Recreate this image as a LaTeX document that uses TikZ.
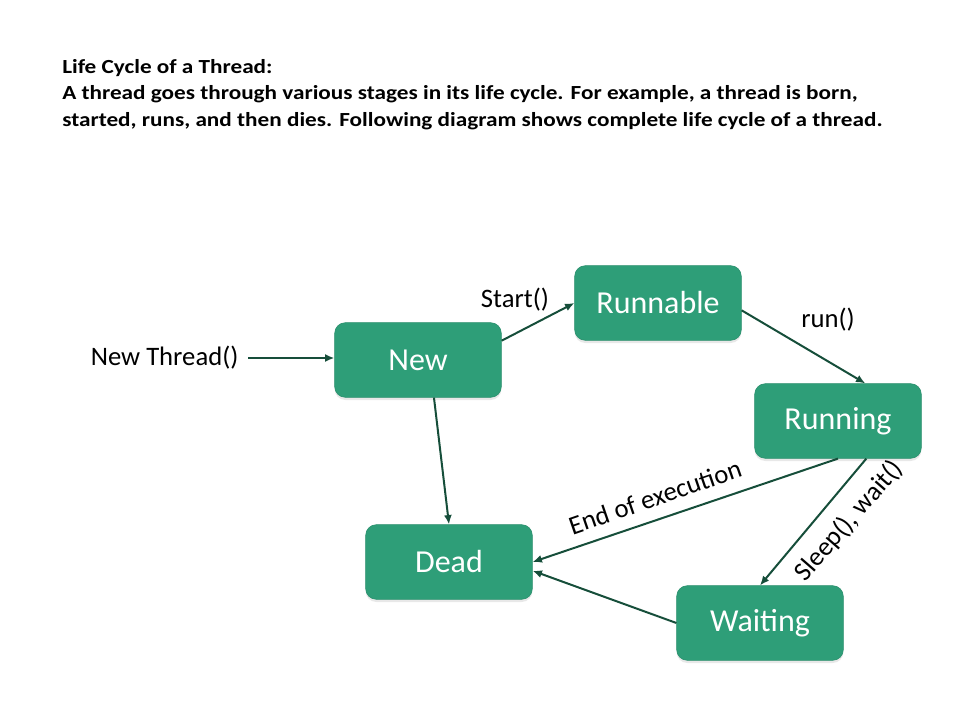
\documentclass[tikz,border=0pt]{standalone}
\usepackage{fontspec}
\setmainfont{Carlito}
\newfontfamily\introfont[FakeStretch=1.16]{Carlito}
\usetikzlibrary{arrows.meta,shadows}
\definecolor{boxgreen}{RGB}{46,158,120}
\definecolor{arrowgreen}{RGB}{22,78,58}
\begin{document}
\begin{tikzpicture}[
    x=0.75pt, y=-0.75pt,
    stbox/.style={
        rectangle, rounded corners=8pt, draw=boxgreen!90!black, fill=boxgreen,
        minimum width=125pt, minimum height=56pt, inner sep=2pt,
        text=white, font=\fontsize{24}{28}\selectfont,
        drop shadow={opacity=0.18, shadow xshift=0pt, shadow yshift=-2pt}
    },
    trans/.style={draw=arrowgreen, line width=1.5pt,
        -{Latex[length=7pt,width=6pt]}},
    lbl/.style={font=\fontsize{20}{24}\selectfont, inner sep=1pt}
]
\useasboundingbox (0,0) rectangle (960,720);

%% Úvodný text
\node[anchor=north west, align=left, inner sep=0pt,
      font=\introfont\fontsize{15}{19.8}\selectfont\bfseries] (intro) at (62,59)
    {Life Cycle of a Thread:\\
     A thread goes through various stages in its life cycle. For example, a thread is born,\\
     started, runs, and then dies. Following diagram shows complete life cycle of a thread.};

%% ── Stavy ────────────────────────────────────────────────────────
\node[stbox] (new)      at (418,360) {New};
\node[stbox] (runnable) at (658,303) {Runnable};
\node[stbox] (running)  at (838,421) {Running};
\node[stbox] (dead)     at (449,562) {Dead};
\node[stbox] (waiting)  at (760,623) {Waiting};

%% ── Prechody ─────────────────────────────────────────────────────
\node[lbl, anchor=east] (newthread) at (240,358) {New Thread()};
\draw[trans] ([xshift=6pt]newthread.east) -- (new.west |- newthread.east);
\draw[trans] (new.13) -- (runnable.west);
\draw[trans] (runnable.-5) -- (running.54);
\draw[trans] (new.-67) -- (dead.north);
\draw[trans] (running.south) -- (dead.east);
\draw[trans] (running.-53) -- (waiting.north);
\draw[trans] (waiting.west) -- (dead.-6);

%% ── Popisy ───────────────────────────────────────────────────────
\node[lbl] (lstart) at (515,300) {Start()};
\node[lbl] (lrun)   at (828,320) {run()};
\node[lbl, rotate=19] (lend)   at (655,497) {End of execution};
\node[lbl, rotate=49] (lsleep) at (849,521) {Sleep(), wait()};

\end{tikzpicture}
\end{document}
